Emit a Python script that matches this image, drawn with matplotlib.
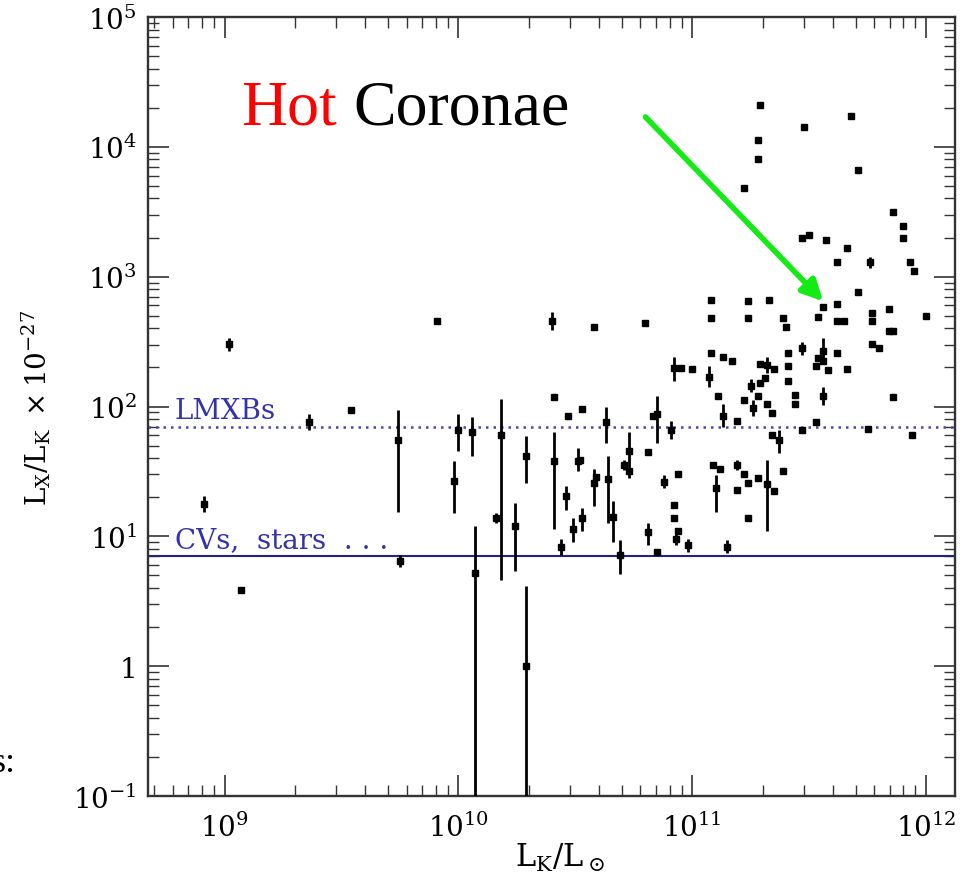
import numpy as np
import matplotlib
matplotlib.use('Agg')
import matplotlib.pyplot as plt
from matplotlib.ticker import NullFormatter

# log10(L_K/L_sun) and log10(L_X/L_K x 1e-27)
log_lk = [9.02, 8.91, 9.07, 9.36, 9.54, 9.74, 9.75, 9.91, 9.98, 10.00,
          10.06, 10.07, 10.18, 10.16, 10.24, 10.29, 10.29, 10.40, 10.41, 10.41,
          10.44, 10.58, 10.47, 10.53, 10.46, 10.49, 10.51, 10.52, 10.53, 10.58,
          10.59, 10.63, 10.64, 10.66, 10.69, 10.71, 10.73, 10.73, 10.80, 10.81,
          10.81, 10.83, 10.85, 10.85, 10.88, 10.91, 10.92, 10.92, 10.93, 10.94,
          10.94, 10.92, 10.95, 11.00, 10.98, 11.08, 11.08, 11.08, 11.07, 11.11,
          11.13, 11.17, 11.13, 11.19, 11.09, 11.12, 11.10, 11.15, 11.19, 11.19,
          11.22, 11.24, 11.24, 11.28, 11.32, 11.35, 11.24, 11.24, 11.33, 11.22,
          11.25, 11.28, 11.26, 11.29, 11.32, 11.31, 11.29, 11.35, 11.32, 11.34,
          11.34, 11.37, 11.39, 11.39, 11.40, 11.41, 11.41, 11.41, 11.44, 11.44,
          11.47, 11.47, 11.53, 11.54, 11.56, 11.54, 11.53, 11.56, 11.56, 11.58,
          11.56, 11.62, 11.62, 11.62, 11.65, 11.66, 11.71, 11.75, 11.77, 11.77,
          11.77, 11.80, 11.84, 11.84, 11.86, 11.86, 11.94, 12.00, 11.29, 11.68,
          11.48, 11.28, 11.28, 11.71, 11.22, 11.86, 11.90, 11.90, 11.47, 11.50,
          11.57, 11.66, 11.62, 11.76, 11.93, 11.95]
log_ratio = [2.48, 1.25, 0.59, 1.88, 1.97, 1.74, 0.81, 2.66, 1.43, 1.82,
             1.80, 0.72, 1.78, 1.14, 1.08, 1.62, 0.00, 2.66, 2.07, 1.58,
             0.92, 2.61, 1.93, 1.98, 1.31, 1.06, 1.58, 1.59, 1.14, 1.41,
             1.46, 1.88, 1.44, 1.15, 0.86, 1.55, 1.66, 1.50, 2.64, 1.65,
             1.03, 1.93, 1.94, 0.88, 1.42, 1.82, 1.24, 1.14, 0.98, 1.04,
             1.48, 2.30, 2.30, 2.29, 0.93, 2.82, 2.68, 2.41, 2.23, 2.08,
             2.38, 2.35, 1.93, 1.89, 1.55, 1.52, 1.37, 0.92, 1.55, 1.36,
             1.48, 1.41, 1.14, 1.45, 1.40, 1.35, 2.81, 2.68, 2.82, 2.05,
             2.16, 2.08, 1.99, 2.33, 2.32, 2.22, 2.18, 2.29, 2.02, 1.95,
             1.78, 1.74, 1.50, 2.68, 2.61, 2.41, 2.31, 2.20, 2.09, 2.02,
             1.82, 2.45, 1.88, 2.69, 2.77, 2.37, 2.31, 2.43, 2.35, 2.28,
             2.08, 2.79, 2.41, 2.66, 2.66, 2.29, 2.88, 1.83, 2.72, 2.66,
             2.48, 2.45, 2.75, 2.58, 2.58, 2.07, 1.78, 2.70, 4.32, 4.24,
             4.15, 4.05, 3.91, 3.82, 3.68, 3.50, 3.39, 3.30, 3.30, 3.32,
             3.28, 3.22, 3.11, 3.11, 3.11, 3.04]
# error bar extent below / above each point, in dex (0 = no bar)
err_lo = [0.05, 0.06, 0, 0.06, 0, 0.55, 0.05, 0, 0.25, 0.16,
          0.18, 3.0, 1.12, 0.04, 0.35, 0.21, 3.0, 0.07, 0, 0.52,
          0.06, 0, 0, 0, 0.11, 0.10, 0.08, 0, 0.10, 0.18,
          0, 0.16, 0.34, 0.19, 0.15, 0.04, 0.21, 0, 0, 0,
          0.10, 0, 0.22, 0, 0.05, 0.07, 0, 0, 0.05, 0,
          0, 0.10, 0, 0, 0.05, 0, 0, 0, 0.08, 0,
          0, 0, 0.09, 0, 0, 0, 0.18, 0.05, 0.04, 0,
          0, 0, 0, 0, 0.36, 0, 0, 0, 0, 0,
          0.05, 0, 0.06, 0, 0.06, 0, 0, 0, 0, 0,
          0, 0.10, 0, 0, 0, 0, 0, 0, 0, 0,
          0, 0.05, 0, 0, 0, 0, 0, 0.08, 0, 0,
          0.07, 0, 0, 0, 0, 0, 0, 0, 0, 0,
          0, 0, 0, 0, 0, 0, 0, 0, 0, 0,
          0, 0, 0, 0, 0, 0, 0, 0, 0, 0,
          0, 0, 0, 0.04, 0, 0]
err_hi = [0.05, 0.06, 0, 0.06, 0, 0.23, 0.05, 0, 0.15, 0.12,
          0.12, 0.36, 0.28, 0.04, 0.18, 0.15, 0.62, 0.07, 0, 0.22,
          0.06, 0, 0, 0, 0.08, 0.08, 0.10, 0, 0.08, 0.11,
          0, 0.12, 0.18, 0.12, 0.11, 0.04, 0.14, 0, 0, 0,
          0.07, 0, 0.14, 0, 0.05, 0.07, 0, 0, 0.05, 0,
          0, 0.08, 0, 0, 0.05, 0, 0, 0, 0.08, 0,
          0, 0, 0.09, 0, 0, 0, 0.10, 0.05, 0.04, 0,
          0, 0, 0, 0, 0.19, 0, 0, 0, 0, 0,
          0.05, 0, 0.06, 0, 0.06, 0, 0, 0, 0, 0,
          0, 0.08, 0, 0, 0, 0, 0, 0, 0, 0,
          0, 0.05, 0, 0, 0, 0, 0, 0.10, 0, 0,
          0.07, 0, 0, 0, 0, 0, 0, 0, 0, 0,
          0, 0, 0, 0, 0, 0, 0, 0, 0, 0,
          0, 0, 0, 0, 0, 0, 0, 0, 0, 0,
          0, 0, 0, 0.04, 0, 0]

lmxb_level = 70   # L_X/L_K from LMXBs
cv_level = 7      # CVs, stars ...

xticks = [1e9, 1e10, 1e11, 1e12]
xticklabels = [r'$10^{9}$', r'$10^{10}$', r'$10^{11}$', r'$10^{12}$']
yticks = [0.1, 1, 10, 100, 1e3, 1e4, 1e5]
yticklabels = [r'$10^{-1}$', '1', r'$10^{1}$', r'$10^{2}$', r'$10^{3}$', r'$10^{4}$', r'$10^{5}$']

# arrow from the "Hot Coronae" label down into the cloud of points
arrow_tail = (10**10.80, 10**4.23)
arrow_head = (10**11.56, 10**2.81)

plt.rcParams['font.family'] = 'DejaVu Serif'
plt.rcParams['mathtext.fontset'] = 'dejavuserif'

fig = plt.figure(figsize=(9.69, 8.87), dpi=100)
ax = fig.add_axes([148/969, 90/887, 807/969, 779/887])

lr = np.array(log_ratio)
x = 10**np.array(log_lk)
y = 10**lr
ylo = y - 10**(lr - np.array(err_lo))
yhi = 10**(lr + np.array(err_hi)) - y

ax.errorbar(x, y, yerr=[ylo, yhi], fmt='s', ms=5, color='black', ecolor='black',
            elinewidth=2, capsize=0, zorder=3)

ax.axhline(lmxb_level, color='#4848a8', ls=(0, (1, 2)), lw=1.8, zorder=2)
ax.axhline(cv_level, color='#23237e', lw=1.5, zorder=2)
ax.text(0.033, 81, 'LMXBs', transform=ax.get_yaxis_transform(), color='#3434a8',
        fontsize=20, va='baseline')
ax.text(0.033, 8.3, 'CVs,  stars  . . .', transform=ax.get_yaxis_transform(), color='#3434a8',
        fontsize=20, va='baseline')

ax.set_xscale('log')
ax.set_yscale('log')
ax.set_xlim(4.7e8, 1.33e12)
ax.set_ylim(0.1, 1e5)
ax.set_xticks(xticks)
ax.set_xticklabels(xticklabels)
ax.set_yticks(yticks)
ax.set_yticklabels(yticklabels)
ax.xaxis.set_minor_formatter(NullFormatter())
ax.yaxis.set_minor_formatter(NullFormatter())
ax.tick_params(which='both', direction='in', top=True, right=True, colors='#333333',
               labelcolor='black', labelsize=20)
ax.tick_params(which='major', length=15, width=1.2, pad=8)
ax.tick_params(axis='x', which='major', pad=12)
ax.tick_params(which='minor', length=8, width=1.0)
for s in ax.spines.values():
    s.set_linewidth(1.7)
    s.set_color('#333333')

ax.set_xlabel(r'$\mathrm{L_K/L_\odot}$', fontsize=22)
ax.set_ylabel(r'$\mathrm{L_X/L_K\ \times10^{-27}}$', fontsize=20)
ax.xaxis.set_label_coords(0.51, -0.058)
ax.yaxis.set_label_coords(-0.118, 0.5)

fig.text(241/969, 1 - 125/887, 'Hot', color='red', fontsize=46,
         family='Liberation Serif', va='baseline')
fig.text(353/969, 1 - 125/887, 'Coronae', color='black', fontsize=46,
         family='Liberation Serif', va='baseline')
# fragment of a neighbouring slide's text, cut by the left edge
fig.text(-0.009, 1 - 772/887, 's:', color='black', fontsize=26,
         family='Liberation Serif', va='baseline')

ax.annotate('', xy=arrow_head, xytext=arrow_tail,
            arrowprops=dict(arrowstyle='-|>,head_length=0.9,head_width=0.45', color='#14ea14',
                            lw=4, shrinkA=0, shrinkB=0, mutation_scale=14))

fig.savefig('out.png', dpi=100)
